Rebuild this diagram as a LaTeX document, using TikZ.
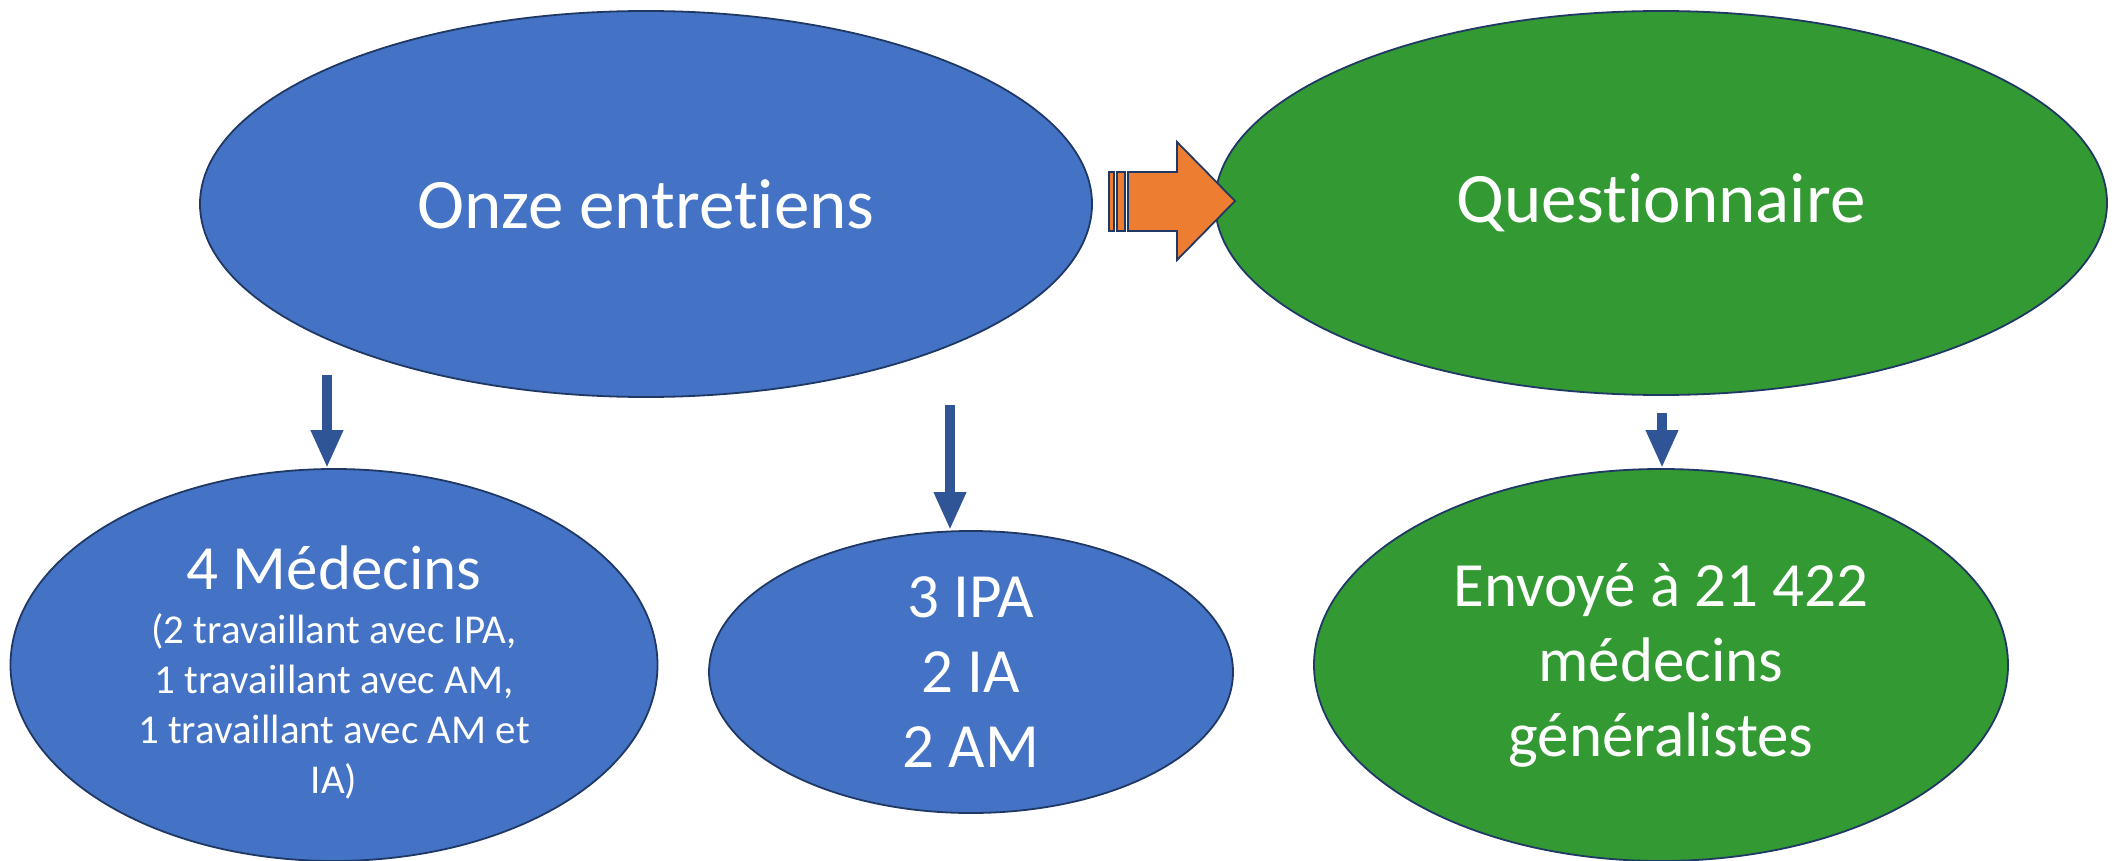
\documentclass[tikz,border=0pt]{standalone}
\usepackage{fontspec}
\setmainfont[Ligatures=NoCommon]{Carlito}
\usepackage{xcolor}
\usetikzlibrary{arrows.meta, positioning, shapes.geometric}
\definecolor{ovalblue}{HTML}{4472C4}
\definecolor{ovalgreen}{HTML}{339933}
\definecolor{ovalline}{HTML}{203864}
\definecolor{arrowblue}{HTML}{2F5597}
\definecolor{arroworange}{HTML}{ED7D31}

\begin{document}
\begin{tikzpicture}[
        x=0.5pt, y=-0.5pt,
        oval/.style={ellipse, draw=ovalline, line width=0.9pt, inner sep=0pt, text=white, align=center},
        ovalblue/.style={oval, fill=ovalblue},
        ovalgreen/.style={oval, fill=ovalgreen},
        downflow/.style={draw=arrowblue, line width=5pt, -{Triangle[width=15pt, length=19pt]}},
        bigarrow/.style={draw=ovalline, line width=0.9pt, fill=arroworange, line join=miter},
        bigfont/.style={font=\fontsize{35.5}{43}\selectfont},
        midfont/.style={font=\fontsize{31.5}{37.5}\selectfont},
        smallfont/.style={font=\fontsize{20.5}{25}\selectfont}
    ]
        \useasboundingbox (0,0) rectangle (2118,861);

        \node[ovalblue, bigfont, minimum width=446pt, minimum height=193pt] (entretiens) at (646,204) {Onze entretiens};
        \node[ovalgreen, bigfont, minimum width=446pt, minimum height=192pt] (questionnaire) at (1661,203) {Questionnaire};

        \node[ovalblue, minimum width=323.5pt, minimum height=196pt] (medecins) at (334,665) {};
        \node[smallfont, text=white, align=center, inner sep=0pt] (medtext) at ([yshift=-3.5pt]medecins.center) {
            {\fontsize{31.5}{37}\selectfont 4 Médecins}\\[2pt]
            (2 travaillant avec IPA,\\
            1 travaillant avec AM,\\
            1 travaillant avec AM et\\
            IA)
        };
        \node[ovalblue, midfont, minimum width=262pt, minimum height=141pt] (soignants) at (971,672) {3 IPA\\2 IA\\2 AM};
        \node[ovalgreen, midfont, minimum width=347pt, minimum height=196pt] (envoi) at (1661,665) {Envoyé à 21 422\\médecins\\généralistes};

        \coordinate (medtop) at (327,375);
        \coordinate (soigtop) at (950,405);
        \coordinate (envtop) at (1662,413);
        \draw[downflow] (medtop) -- (medtop |- medecins.north);
        \draw[downflow] (soigtop) -- (soigtop |- soignants.north);
        \draw[downflow] (envtop) -- (envtop |- envoi.north);

        \draw[bigarrow] (1109,172) rectangle (1114,231);
        \draw[bigarrow] (1117,172) rectangle (1125,231);
        \draw[bigarrow] (1128,172) -- (1177,172) -- (1177,142) -- (1235,201) -- (1177,260) -- (1177,231) -- (1128,231) -- cycle;
    \end{tikzpicture}
\end{document}
